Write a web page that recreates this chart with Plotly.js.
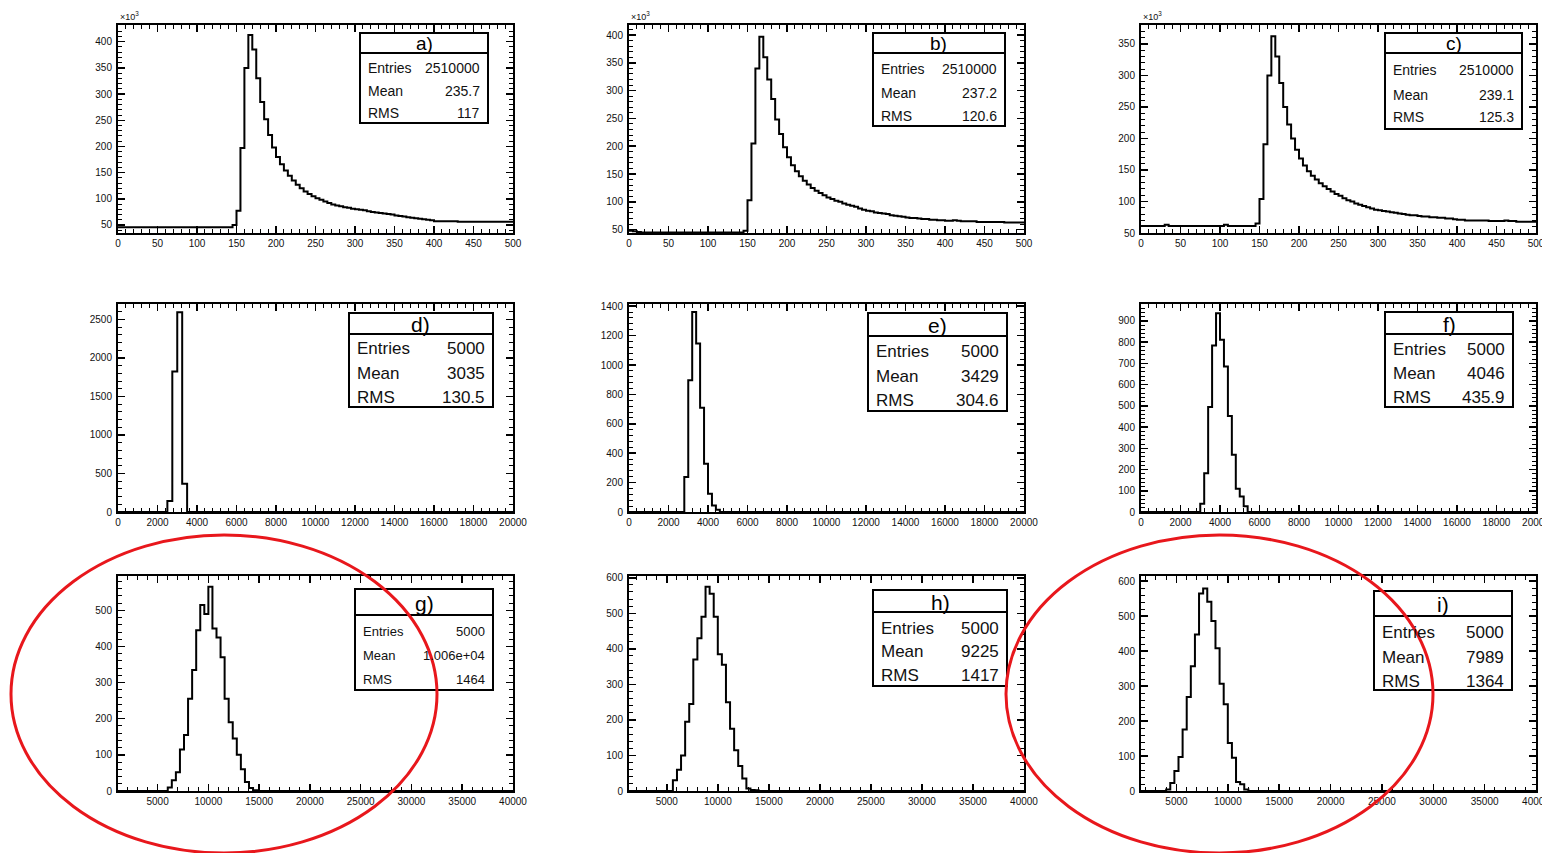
<!DOCTYPE html>
<html><head><meta charset="utf-8">
<script src="https://cdn.plot.ly/plotly-3.0.1.min.js"></script>
<style>html,body{margin:0;padding:0;background:#fff}#chart{width:1542px;height:853px}</style>
</head><body><div id="chart"></div>
<script>
// ---------------- DATA ----------------
// Row 1: bins of width 5 from 0 to 500, counts in units of 10^3
const topStart = 0, topWidth = 5;
const aCounts = [45.5,45.5,45.5,45.5,45.5,45.5,45.5,45.5,45.5,45.5,45.5,45.5,45.5,45.5,45.5,45.5,45.5,45.5,45.5,45.5,45.5,45.5,45.5,45.5,45.5,45.5,45.5,45.5,45.5,
  50,77,197,350,413,385,330,285,252,222,198,180,166,154,144,135,127,120,114,109,105,101,98,95,92,89,87,86,84,83,81,80,79,78,76,75,74,73,72,71,70,68,67,66,65,64,63,62,61,60,59,
  57,57,57,57,57,57,56,56,56,56,56,56,56,56,56,56,56,56,56,56];
const bCounts = [48,47,46,45,45,45,45,45,45,45,45,45,45,45,45,45,45,45,45,45,45,45,45,45,45,45,45,45,45,
  48,103,205,340,397,360,320,285,248,222,198,180,166,155,146,138,131,125,120,116,112,108,105,102,100,97,95,93,91,88,86,84,83,81,80,79,78,76,75,74,73,72,71,71,70,69,69,68,68,67,67,
  66,66,67,66,65,65,65,65,64,64,64,64,64,64,64,63,63,63,63,63];
const cCounts = [61,61,61,61,61,61,63,61,61,61,61,61,61,61,61,61,61,61,61,61,61,63,61,61,61,61,61,61,61,
  65,104,191,300,362,330,288,250,222,200,182,168,157,148,141,135,129,124,120,116,112,109,105,102,100,97,95,93,91,89,87,86,85,84,83,82,81,80,79,78,78,77,76,76,75,75,74,74,73,73,72,
  71,71,70,70,70,70,70,70,69,69,69,69,70,69,69,68,68,68,68,68];

// Row 2
const dStart = 2500, dWidth = 250;
const dCounts = [142,1823,2592,367];
const eStart = 2800, eWidth = 200;
const eCounts = [238,896,1361,1146,710,329,125,45,16];
const fStart = 3000, fWidth = 200;
const fCounts = [39,183,495,785,936,811,686,452,270,109,73,27];

// Row 3
const gStart = 6000, gWidth = 400;
const gCounts = [10,30,52,115,155,255,335,445,515,490,565,450,425,370,255,190,145,100,60,25,8,2];
const hStart = 5600, hWidth = 400;
const hCounts = [30,60,100,195,245,370,430,490,575,555,490,385,355,250,175,115,70,35,7,3,2];
const iStart = 4000, iWidth = 400;
const iCounts = [4,23,57,97,176,269,357,448,565,579,541,486,408,307,248,137,95,26,19,4];

// Statistics boxes
const statTitles  = ['a)','b)','c)','d)','e)','f)','g)','h)','i)'];
const statEntries = ['2510000','2510000','2510000','5000','5000','5000','5000','5000','5000'];
const statMeans   = ['235.7','237.2','239.1','3035','3429','4046','1.006e+04','9225','7989'];
const statRMS     = ['117','120.6','125.3','130.5','304.6','435.9','1464','1417','1364'];

// ---------------- LAYOUT / STYLE ----------------
const W = 1542, H = 853;
const px = x => x / W;
const py = y => 1 - y / H;
const cols = [[118,513],[629,1024],[1141,1536]];
const rows = [[25,233],[304,512],[576,791]];

const panels = [
  {c:aCounts,s:topStart,w:topWidth,xr:[0,500],yr:[34.7,431.9],xd:50,xm:10,yd:50,ym:10,pad:false},
  {c:bCounts,s:topStart,w:topWidth,xr:[0,500],yr:[44,418],xd:50,xm:10,yd:50,ym:10,pad:false},
  {c:cCounts,s:topStart,w:topWidth,xr:[0,500],yr:[50,380],xd:50,xm:10,yd:50,ym:10,pad:false},
  {c:dCounts,s:dStart,w:dWidth,xr:[0,20000],yr:[0,2700],xd:2000,xm:400,yd:500,ym:100,pad:true},
  {c:eCounts,s:eStart,w:eWidth,xr:[0,20000],yr:[0,1415],xd:2000,xm:400,yd:200,ym:40,pad:true},
  {c:fCounts,s:fStart,w:fWidth,xr:[0,20000],yr:[0,980],xd:2000,xm:400,yd:100,ym:20,pad:true},
  {c:gCounts,s:gStart,w:gWidth,xr:[1100,40000],yr:[0,595],xd:5000,xm:1000,yd:100,ym:20,pad:true},
  {c:hCounts,s:hStart,w:hWidth,xr:[1300,40000],yr:[0,605],xd:5000,xm:1000,yd:100,ym:20,pad:true},
  {c:iCounts,s:iStart,w:iWidth,xr:[1550,40000],yr:[0,615],xd:5000,xm:1000,yd:100,ym:20,pad:true}
];

// box: [left, right, top, bottom], divider y, row ys, font size, title size
const boxes = [
  {b:[360,488,33,123],d:53,r:[68,91,113],f:14,t:19},
  {b:[873,1005,33,126],d:53,r:[69,93,116],f:14,t:19},
  {b:[1385,1522,33,129],d:53,r:[70,95,117],f:14,t:19},
  {b:[349,493,313,407],d:334,r:[349,373,397],f:17,t:21},
  {b:[868,1007,313,411],d:336,r:[352,376,400],f:17,t:21},
  {b:[1385,1513,312,407],d:334,r:[350,373,397],f:17,t:21},
  {b:[355,493,589,690],d:615,r:[631,655,679],f:13,t:21},
  {b:[873,1007,590,686],d:612,r:[628,651,675],f:17,t:21},
  {b:[1374,1512,591,690],d:616,r:[632,657,681],f:17,t:21}
];

function stepXY(counts, start, width, xr, pad){
  const xs = [], ys = [];
  if (pad) { xs.push(xr[0]); ys.push(0); }
  for (let i = 0; i < counts.length; i++) { xs.push(start + i*width); ys.push(counts[i]); }
  xs.push(start + counts.length*width); ys.push(pad ? 0 : counts[counts.length-1]);
  if (pad) { xs.push(xr[1]); ys.push(0); }
  return {xs, ys};
}

const FONT = 'Liberation Sans, Arial, Helvetica, sans-serif';
const traces = [];
const layout = {
  width: W, height: H, margin:{l:0,r:0,t:0,b:0},
  paper_bgcolor:'#fff', plot_bgcolor:'#fff', showlegend:false,
  font:{family:FONT, color:'#000'},
  shapes:[], annotations:[]
};

function axisBase(domain, range, dtick, minorDtick, anchor){
  return {
    domain, range, anchor, tick0:0, dtick, autorange:false,
    showline:true, linecolor:'#000', linewidth:2, mirror:'ticks',
    ticks:'inside', ticklen:7, tickwidth:1.5, tickcolor:'#000',
    minor:{dtick:minorDtick, tick0:0, ticks:'inside', ticklen:4, tickwidth:1, tickcolor:'#000', showgrid:false},
    showgrid:false, zeroline:false, tickangle:0, ticklabeloverflow:'allow',
    tickformat:'d',
    tickfont:{family:FONT, size:10, color:'#111'}, fixedrange:true
  };
}

panels.forEach((p, k) => {
  const col = cols[k % 3], row = rows[Math.floor(k / 3)];
  const n = k + 1;
  const xa = n === 1 ? 'x' : 'x' + n, ya = n === 1 ? 'y' : 'y' + n;
  const {xs, ys} = stepXY(p.c, p.s, p.w, p.xr, p.pad);
  traces.push({type:'scatter', mode:'lines', x:xs, y:ys, xaxis:xa, yaxis:ya,
    line:{shape:'hv', color:'#000', width:2}, hoverinfo:'skip'});
  layout['xaxis' + (n === 1 ? '' : n)] = axisBase([px(col[0]), px(col[1])], p.xr, p.xd, p.xm, ya);
  const yax = axisBase([py(row[1]), py(row[0])], p.yr, p.yd, p.ym, xa);
  yax.ticklabelstandoff = 2;
  layout['yaxis' + (n === 1 ? '' : n)] = yax;

  // stats box
  const bx = boxes[k];
  const [l, r, t, b] = bx.b;
  layout.shapes.push({type:'rect', xref:'paper', yref:'paper', x0:px(l), x1:px(r), y0:py(b), y1:py(t),
    line:{color:'#000', width:2}, fillcolor:'#fff', layer:'above'});
  layout.shapes.push({type:'line', xref:'paper', yref:'paper', x0:px(l), x1:px(r), y0:py(bx.d), y1:py(bx.d),
    line:{color:'#000', width:2}, layer:'above'});
  layout.annotations.push({xref:'paper', yref:'paper', x:px((l+r)/2), y:py((t+bx.d)/2 + 1), text:statTitles[k],
    showarrow:false, xanchor:'center', yanchor:'middle', font:{family:FONT, size:bx.t, color:'#000'}});
  const labels = ['Entries','Mean','RMS'];
  const vals = [statEntries[k], statMeans[k], statRMS[k]];
  for (let j = 0; j < 3; j++) {
    layout.annotations.push({xref:'paper', yref:'paper', x:px(l+6), y:py(bx.r[j]), text:labels[j],
      showarrow:false, xanchor:'left', yanchor:'middle', font:{family:FONT, size:bx.f, color:'#111'}});
    layout.annotations.push({xref:'paper', yref:'paper', x:px(r-6), y:py(bx.r[j]), text:vals[j],
      showarrow:false, xanchor:'right', yanchor:'middle', font:{family:FONT, size:bx.f, color:'#111'}});
  }
  // x10^3 multiplier on the top row
  if (k < 3) {
    layout.annotations.push({xref:'paper', yref:'paper', x:px(col[0]), y:py(row[0]-1), text:'×10<sup>3</sup>',
      showarrow:false, xanchor:'left', yanchor:'bottom', font:{family:FONT, size:9, color:'#111'}});
  }
});

// red ellipses
layout.shapes.push({type:'circle', xref:'paper', yref:'paper', x0:px(11), x1:px(437), y0:py(853), y1:py(535),
  line:{color:'#e8171c', width:3}, fillcolor:'rgba(0,0,0,0)', layer:'above'});
layout.shapes.push({type:'circle', xref:'paper', yref:'paper', x0:px(1006), x1:px(1433), y0:py(853), y1:py(535),
  line:{color:'#e8171c', width:3}, fillcolor:'rgba(0,0,0,0)', layer:'above'});

Plotly.newPlot('chart', traces, layout, {displayModeBar:false, staticPlot:true});
</script></body></html>
